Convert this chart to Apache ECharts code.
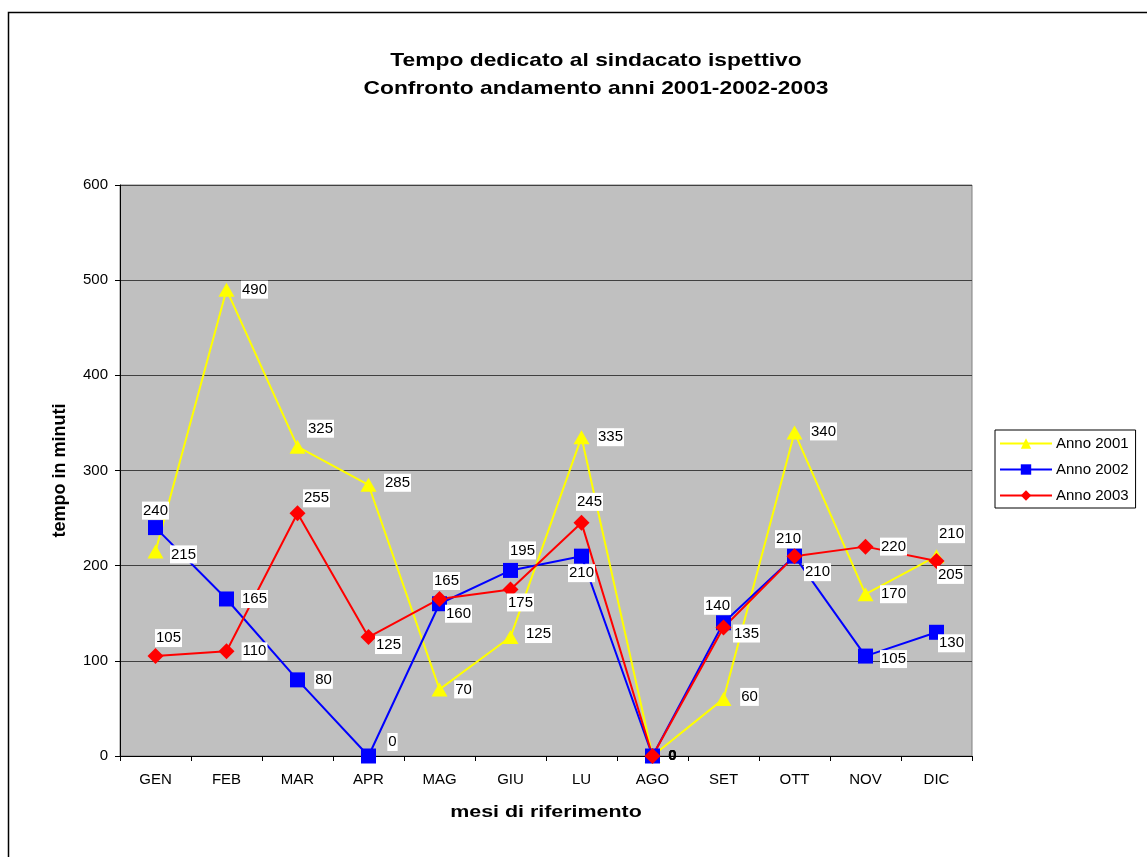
<!DOCTYPE html>
<html>
<head>
<meta charset="utf-8">
<style>
  html, body { margin: 0; padding: 0; background: #ffffff; }
  #chart { width: 1147px; height: 857px; }
</style>
<script src="https://cdn.jsdelivr.net/npm/echarts@6/dist/echarts.min.js"></script>
</head>
<body>
<div id="chart"></div>
<script>
// Months of the year (Italian abbreviations)
const months = ['GEN', 'FEB', 'MAR', 'APR', 'MAG', 'GIU', 'LU', 'AGO', 'SET', 'OTT', 'NOV', 'DIC'];

// Minutes spent per month
const anno2001 = [215, 490, 325, 285, 70, 125, 335, 0, 60, 340, 170, 210];
const anno2002 = [240, 165, 80, 0, 160, 195, 210, 0, 140, 210, 105, 130];
const anno2003 = [105, 110, 255, 125, 165, 175, 245, 0, 135, 210, 220, 205];

const seriesNames = ['Anno 2001', 'Anno 2002', 'Anno 2003'];
const yTicks = [0, 100, 200, 300, 400, 500, 600];

const titleLines = ['Tempo dedicato al sindacato ispettivo', 'Confronto andamento anni 2001-2002-2003'];
const xAxisTitle = 'mesi di riferimento';
const yAxisTitle = 'tempo in minuti';

// Where each value label sits relative to its marker (dx, dy in px)
const offsets2001 = [[28, 3], [28, 0], [23, -18], [29, -2], [24, 0], [28, -3], [29, 0], [20, 0], [26, -2], [29, -1], [28, 0], [15, -22]];
const offsets2002 = [[0, -17], [28, 0], [26, 0], [24, -14], [19, 10], [12, -20], [0, 17], [20, 0], [-6, -17], [23, 16], [28, 3], [15, 11]];
const offsets2003 = [[13, -18], [28, 0], [19, -15], [20, 8], [7, -18], [10, 13], [8, -21], [20, 0], [23, 6], [-6, -17], [28, 0], [14, 14]];

const FONT = 'Liberation Sans, Arial, sans-serif';

const labelBase = {
  show: true,
  position: 'inside',
  color: '#000000',
  fontFamily: FONT,
  fontSize: 15,
  backgroundColor: '#ffffff',
  padding: [2, 1, 1, 1],
  align: 'center',
  verticalAlign: 'middle'
};

function buildData(values, offsets) {
  return values.map((v, i) => {
    const lbl = Object.assign({}, labelBase, { offset: offsets[i] });
    if (v === 0 && months[i] === 'AGO') {
      lbl.backgroundColor = 'transparent';
      lbl.fontWeight = 'bold';
    }
    return { value: v, label: lbl };
  });
}

function lineSeries(name, values, offsets, color, symbol, size) {
  return {
    name: name,
    type: 'line',
    data: buildData(values, offsets),
    symbol: symbol,
    symbolSize: size,
    showAllSymbol: true,
    lineStyle: { color: color, width: 2 },
    itemStyle: { color: color },
    emphasis: { disabled: true },
    animation: false
  };
}

// Bold headings drawn slightly widened, as in the printed sheet
function heading(text, cx, cy, size, stretch) {
  return {
    type: 'text',
    x: cx,
    y: cy,
    scaleX: stretch,
    silent: true,
    z: 50,
    style: {
      text: text,
      fill: '#000000',
      font: 'bold ' + size + 'px ' + FONT,
      textAlign: 'center',
      textVerticalAlign: 'middle'
    }
  };
}

const chart = echarts.init(document.getElementById('chart'), null, { renderer: 'canvas' });

chart.setOption({
  backgroundColor: '#ffffff',
  animation: false,
  textStyle: { fontFamily: FONT },
  graphic: [
    {
      type: 'rect',
      shape: { x: 8.5, y: 12.5, width: 1300, height: 1000 },
      style: { fill: 'none', stroke: '#000000', lineWidth: 1.5 },
      silent: true,
      z: 100
    },
    heading(titleLines[0], 596, 61, 19, 1.2),
    heading(titleLines[1], 596, 89, 19, 1.2),
    heading(xAxisTitle, 546, 812, 17, 1.26)
  ],
  legend: {
    data: seriesNames,
    orient: 'vertical',
    left: 995,
    top: 430,
    borderColor: '#000000',
    borderWidth: 1,
    padding: [6, 7, 5, 4],
    itemWidth: 52,
    itemHeight: 13,
    itemGap: 11,
    textStyle: { fontSize: 15, color: '#000000', fontFamily: FONT, padding: [0, 0, 0, -1] },
    selectedMode: false
  },
  grid: {
    left: 120,
    top: 185,
    width: 852,
    height: 571,
    show: true,
    backgroundColor: '#c0c0c0',
    borderColor: '#808080',
    borderWidth: 1
  },
  xAxis: {
    type: 'category',
    data: months,
    boundaryGap: true,
    axisLine: { lineStyle: { color: '#000000', width: 1 } },
    axisTick: { show: true, alignWithLabel: false, length: 5, lineStyle: { color: '#000000' } },
    axisLabel: { fontSize: 15, color: '#000000', margin: 16, interval: 0 },
    splitLine: { show: false }
  },
  yAxis: {
    type: 'value',
    min: 0,
    max: 600,
    interval: 100,
    name: yAxisTitle,
    nameLocation: 'middle',
    nameGap: 51,
    nameRotate: 90,
    nameTextStyle: { fontSize: 18, fontWeight: 'bold', color: '#000000' },
    axisLine: { show: true, lineStyle: { color: '#000000', width: 1 } },
    axisTick: { show: true, length: 5, lineStyle: { color: '#000000' } },
    axisLabel: {
      fontSize: 15,
      color: '#000000',
      margin: 12,
      formatter: v => (yTicks.indexOf(v) >= 0 ? String(v) : '')
    },
    splitLine: { show: true, lineStyle: { color: '#404040', width: 1 } }
  },
  series: [
    lineSeries(seriesNames[0], anno2001, offsets2001, '#ffff00', 'triangle', [16, 14]),
    lineSeries(seriesNames[1], anno2002, offsets2002, '#0000ff', 'rect', 15),
    lineSeries(seriesNames[2], anno2003, offsets2003, '#ff0000', 'diamond', [16, 16])
  ]
});
</script>
</body>
</html>
